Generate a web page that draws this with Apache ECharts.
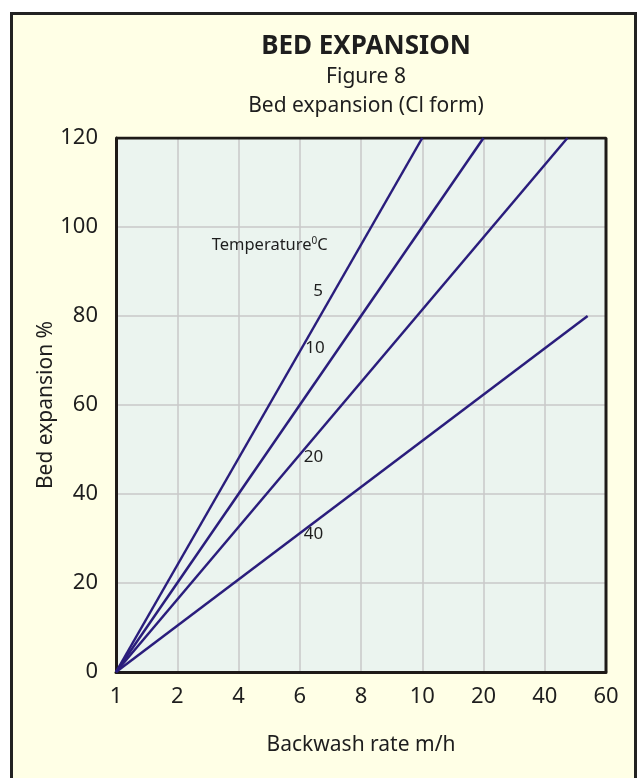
<!DOCTYPE html>
<html>
<head>
<meta charset="utf-8">
<script src="https://cdn.jsdelivr.net/npm/echarts@6/dist/echarts.min.js"></script>
<style>
  html, body { margin: 0; padding: 0; background: #fff; }
  #chart { width: 643px; height: 778px; }
</style>
</head>
<body>
<div id="chart"></div>
<script>
// x axis is drawn with evenly spaced ticks, not a true scale
const xTicks = [1, 2, 4, 6, 8, 10, 20, 40, 60]

// temperature curves (°C): straight lines from 1 m/h, 0 %
const temps = ['5', '10', '20', '40']
const rateStart = [1, 1, 1, 1]
const expStart = [0, 0, 0, 0]
const rateEnd = [10, 20, 47.4, 54]
const expEnd = [120, 120, 120, 80]

// where each temperature label sits (m/h, %)
const labelRate = [6.6, 6.5, 6.45, 6.45]
const labelExp = [85.6, 72.8, 48.3, 31]

const font = '"Noto Sans", Lato, sans-serif'
const lineColor = '#2a1d7c'
const textColor = '#1e1e1e'

// map m/h onto the evenly spaced tick index
function toPos(v) {
  for (let i = 0; i < xTicks.length - 1; i++) {
    if (v <= xTicks[i + 1]) return i + (v - xTicks[i]) / (xTicks[i + 1] - xTicks[i])
  }
  return xTicks.length - 1
}

const chart = echarts.init(document.getElementById('chart'))

chart.setOption({
  animation: false,
  backgroundColor: '#fff',
  graphic: [
    {
      type: 'rect', z: -10, silent: true,
      shape: { x: 11.5, y: 13.5, width: 624, height: 800 },
      style: { fill: '#ffffe6', stroke: '#222', lineWidth: 3 },
    },
  ],
  title: {
    text: 'BED EXPANSION',
    subtext: 'Figure 8\nBed expansion (Cl form)',
    left: 361, top: 29, textAlign: 'center',
    itemGap: 3,
    textStyle: { fontFamily: font, fontSize: 26, fontWeight: 'bold', color: textColor },
    subtextStyle: { fontFamily: font, fontSize: 21, color: textColor, lineHeight: 29, align: 'center' },
  },
  grid: { left: 116, right: 37, top: 138, bottom: 106, backgroundColor: '#ebf4ef', show: true, borderWidth: 0 },
  xAxis: {
    type: 'value', min: 0, max: xTicks.length - 1, interval: 1,
    name: 'Backwash rate m/h', nameLocation: 'middle', nameGap: 63, nameMoveOverlap: false,
    nameTextStyle: { fontFamily: font, fontSize: 21, color: textColor },
    axisLine: { show: true, onZero: false, lineStyle: { color: '#1e1a18', width: 3 } },
    axisTick: { show: false },
    axisLabel: { fontFamily: font, fontSize: 22, color: textColor, margin: 14, formatter: v => String(xTicks[v]) },
    splitLine: { show: true, lineStyle: { color: '#c8c8c8', width: 1.5 } },
  },
  yAxis: {
    type: 'value', min: 0, max: 120, interval: 20,
    name: 'Bed expansion %', nameLocation: 'middle', nameGap: 59, nameMoveOverlap: false,
    nameTextStyle: { fontFamily: font, fontSize: 21, color: textColor },
    axisLine: { show: true, lineStyle: { color: '#1e1a18', width: 3 } },
    axisTick: { show: false },
    axisLabel: { fontFamily: font, fontSize: 22, color: textColor, margin: 18 },
    splitLine: { show: true, lineStyle: { color: '#c8c8c8', width: 1.5 } },
  },
  series: [
    // plot frame on top/right
    {
      type: 'line', silent: true, symbol: 'none', z: 1,
      data: [[0, 120], [xTicks.length - 1, 120], [xTicks.length - 1, 0]],
      lineStyle: { color: '#1e1a18', width: 3 },
    },
    ...temps.map((t, i) => ({
      name: t + '°C',
      type: 'line', symbol: 'none', z: 3,
      data: [[toPos(rateStart[i]), expStart[i]], [toPos(rateEnd[i]), expEnd[i]]],
      lineStyle: { color: lineColor, width: 2.5 },
    })),
    {
      type: 'scatter', symbolSize: 0, silent: true, z: 4,
      itemStyle: { color: textColor, opacity: 1 },
      data: temps.map((t, i) => ({ value: [toPos(labelRate[i]), labelExp[i]], name: t })),
      label: {
        show: true, position: 'inside', formatter: p => p.name,
        fontFamily: font, fontSize: 17, color: textColor,
      },
    },
    {
      type: 'scatter', symbolSize: 0, silent: true, z: 4,
      itemStyle: { color: textColor, opacity: 1 },
      data: [[toPos(5.02), 95.9]],
      label: {
        show: true, position: 'inside', color: textColor,
        formatter: '{a|Temperature}{s|0}{a|C}',
        rich: {
          a: { fontFamily: font, fontSize: 16.5, color: textColor },
          s: { fontFamily: font, fontSize: 10, color: textColor, verticalAlign: 'top', padding: [0, 0, 9, 0] },
        },
      },
    },
  ],
})
</script>
</body>
</html>
